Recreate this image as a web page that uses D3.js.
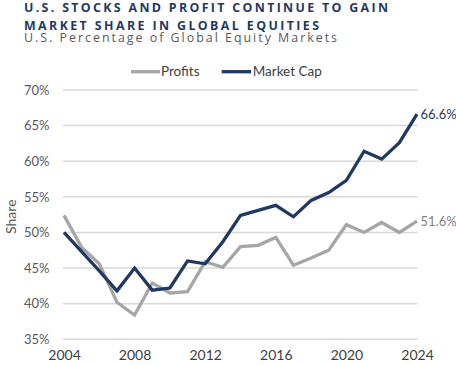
<!DOCTYPE html>
<html><head><meta charset="utf-8">
<script src="https://cdn.jsdelivr.net/npm/d3@7"></script>
<style>body{margin:0;background:#fff}svg{display:block}</style>
</head><body>
<svg id="c" width="456" height="365"></svg>
<script>
const years = [2004,2005,2006,2007,2008,2009,2010,2011,2012,2013,2014,2015,2016,2017,2018,2019,2020,2021,2022,2023,2024];
const profits = [52.4,47.9,45.6,40.2,38.4,42.9,41.5,41.7,45.9,45.1,48.0,48.2,49.3,45.4,46.4,47.5,51.1,50.0,51.4,50.0,51.6];
const marketCap = [50.0,47.3,44.6,41.8,45.0,41.9,42.2,46.0,45.6,48.7,52.4,53.1,53.8,52.2,54.5,55.6,57.3,61.4,60.3,62.6,66.6];
const yTicks = [35,40,45,50,55,60,65,70];
const xTicks = [2004,2008,2012,2016,2020,2024];
const seriesNames = ["Profits","Market Cap"];
const colors = ["#a6a6a6","#1f3864"];

const svg = d3.select("#c");
const x = d3.scaleLinear().domain([2004,2024]).range([64,417]);
const y = d3.scaleLinear().domain([35,70]).range([339.3,90]);
const font = "Lato, 'Open Sans', sans-serif";

// Titles
const titles = [
  {t:"U.S. STOCKS AND PROFIT CONTINUE TO GAIN", y:11.8, w:364, bold:true, c:"#1f3864"},
  {t:"MARKET SHARE IN GLOBAL EQUITIES", y:29.6, w:295, bold:true, c:"#1f3864"},
  {t:"U.S. Percentage of Global Equity Markets", y:42.4, w:313, bold:false, c:"#595959"}
];
titles.forEach(d=>{
  svg.append("text").attr("x",24).attr("y",d.y).attr("font-family","'Open Sans',sans-serif")
    .attr("font-weight",d.bold?"bold":"normal").attr("font-size",12.4)
    .attr("textLength",d.w).attr("lengthAdjust","spacing").attr("fill",d.c).text(d.t);
});

// Gridlines
svg.append("g").selectAll("line").data(yTicks).join("line")
  .attr("x1",63).attr("x2",417.7).attr("y1",d=>y(d)).attr("y2",d=>y(d))
  .attr("stroke","#d9d9d9").attr("stroke-width",1.5);

// Y axis labels
const yAxis = d3.axisLeft(y).tickValues(yTicks).tickFormat(d=>d+"%").tickSize(0).tickPadding(0);
const gy = svg.append("g").attr("transform","translate(49.5,0)").call(yAxis);
gy.select(".domain").remove();
gy.selectAll("text").attr("font-family",font).attr("font-size",13).attr("fill","#595959");

// X axis labels
const xAxis = d3.axisBottom(x).tickValues(xTicks).tickFormat(d3.format("d")).tickSize(0).tickPadding(0);
const gx = svg.append("g").attr("transform","translate(0,350)").call(xAxis);
gx.select(".domain").remove();
gx.selectAll("text").attr("font-family",font).attr("font-size",14).attr("fill","#404040");

// Y title
svg.append("text").attr("transform","translate(15.5,216.7) rotate(-90)").attr("text-anchor","middle")
  .attr("font-family",font).attr("font-size",14).attr("fill","#595959").text("Share");

// Lines
const line = d3.line().x((d,i)=>x(years[i])).y(d=>y(d));
[profits, marketCap].forEach((s,k)=>{
  svg.append("path").datum(s).attr("d",line).attr("fill","none")
    .attr("stroke",colors[k]).attr("stroke-width",3.3).attr("stroke-linejoin","miter");
});

// End labels
svg.append("text").attr("x",420.5).attr("y",y(marketCap[20])).attr("dy","0.35em")
  .attr("font-family",font).attr("font-size",13).attr("fill","#1f3864").text(d3.format(".1f")(marketCap[20])+"%");
svg.append("text").attr("x",420.5).attr("y",y(profits[20])).attr("dy","0.35em")
  .attr("font-family",font).attr("font-size",13).attr("fill","#808080").text(d3.format(".1f")(profits[20])+"%");

// Legend
const leg = [{x1:131,x2:160,tx:161},{x1:221.7,x2:251,tx:252.7}];
leg.forEach((l,k)=>{
  svg.append("line").attr("x1",l.x1).attr("x2",l.x2).attr("y1",71.7).attr("y2",71.7)
    .attr("stroke",colors[k]).attr("stroke-width",3.3);
  svg.append("text").attr("x",l.tx).attr("y",71.7).attr("dy","0.35em")
    .attr("font-family",font).attr("font-size",13.5).attr("fill","#404040").text(seriesNames[k]);
});
</script>
</body></html>
